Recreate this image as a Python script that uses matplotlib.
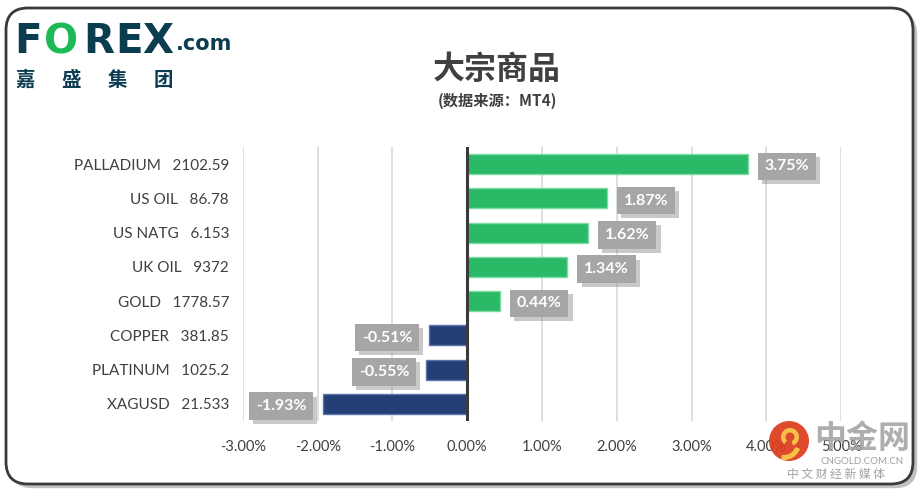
import matplotlib.pyplot as plt
import matplotlib.patheffects as pe
from matplotlib.patches import FancyBboxPatch, Circle, Wedge

names = ["PALLADIUM", "US OIL", "US NATG", "UK OIL", "GOLD", "COPPER", "PLATINUM", "XAGUSD"]
prices = ["2102.59", "86.78", "6.153", "9372", "1778.57", "381.85", "1025.2", "21.533"]
changes = [3.75, 1.87, 1.62, 1.34, 0.44, -0.51, -0.55, -1.93]
xticks = [-3, -2, -1, 0, 1, 2, 3, 4, 5]

GREEN = "#2aba67"
NAVY = "#243f76"
TEAL = "#0b3c50"
TXT = "#404040"

plt.rcParams["font.family"] = ["Lato", "Noto Sans CJK SC", "DejaVu Sans"]

W, H = 920, 492
fig = plt.figure(figsize=(W / 100, H / 100), dpi=100)


def fx(px):
    return px / W


def fy(py):
    return 1 - py / H


# outer rounded frame with shadow
frame = FancyBboxPatch((0.06, 0.08), 9.07, 4.76, boxstyle="round,pad=0,rounding_size=0.22",
                       transform=fig.dpi_scale_trans, facecolor="white", edgecolor="#3a3a3a",
                       linewidth=2, zorder=-5,
                       path_effects=[pe.SimplePatchShadow(offset=(3, -3), shadow_rgbFace="#999999", alpha=0.6),
                                     pe.Normal()])
fig.patches.append(frame)

# logo
for letter, px, col in [("F", 14, TEAL), ("O", 44, "#1db954"), ("R", 83, TEAL), ("E", 115, TEAL), ("X", 142, TEAL)]:
    fig.text(fx(px), fy(42), letter, fontsize=29, fontweight="black", color=col, va="center", family="DejaVu Sans")
fig.text(fx(176), fy(44), ".com", fontsize=15, fontweight="bold", color=TEAL, va="center", family="DejaVu Sans")
for ch, px in zip("嘉盛集团", [15, 61, 108, 154]):
    fig.text(fx(px), fy(80), ch, fontsize=14, fontweight="bold", color=TEAL, va="center",
             family=["Noto Sans CJK SC"])

# titles
fig.text(fx(497), fy(70), "大宗商品", fontsize=23, fontweight="bold", color=TXT, ha="center", va="center",
         family=["Noto Sans CJK SC"])
fig.text(fx(497), fy(101), "(数据来源：MT4)", fontsize=11, fontweight="bold", color=TXT, ha="center", va="center",
         family=["Noto Sans CJK SC"])

ax = fig.add_axes([fx(243), fy(421), fx(841) - fx(243), (421 - 147) / H])
ax.set_facecolor("none")

ypos = list(range(len(names)))
colors = [GREEN if c >= 0 else NAVY for c in changes]
edges = ["#7ddca4" if c >= 0 else "#5a76a8" for c in changes]
ax.barh(ypos, changes, height=0.58, color=colors, edgecolor=edges, linewidth=1, zorder=3)

ax.set_xlim(-3, 5)
ax.set_ylim(len(names) - 0.5, -0.5)
ax.set_xticks(xticks)
ax.set_xticklabels([f"{t:.2f}%" for t in xticks], fontsize=10.5, color=TXT)
ax.set_yticks(ypos)
ax.set_yticklabels([f"{n}   {p}" for n, p in zip(names, prices)], fontsize=11, color=TXT)
ax.tick_params(axis="both", length=0)
ax.tick_params(axis="x", pad=14)
ax.tick_params(axis="y", pad=10)
for s in ax.spines.values():
    s.set_visible(False)
ax.grid(axis="x", color="#d9d9d9", linewidth=1.2, zorder=0)
ax.axvline(0, color="#3a3a3a", linewidth=2.2, zorder=4)

for y, c in zip(ypos, changes):
    off = 12 if c >= 0 else -12
    t = ax.annotate(f"{c:.2f}%", (c, y), xytext=(off, -0.5), textcoords="offset points",
                    ha="left" if c >= 0 else "right", va="center_baseline", fontsize=11.5, fontweight="bold",
                    color="white", zorder=6,
                    bbox=dict(boxstyle="square,pad=0.42", facecolor="#a6a6a6", edgecolor="none"))
    t.get_bbox_patch().set_path_effects([pe.SimplePatchShadow(offset=(3, -3), shadow_rgbFace="#888888", alpha=0.45),
                                         pe.Normal()])

# watermark (drawn on top, like the reference)
fig.patches.append(Circle((7.89, 4.92 - 4.41), 0.2, transform=fig.dpi_scale_trans, facecolor="#dc3c1a",
                          edgecolor="none", alpha=0.92, zorder=5))
fig.patches.append(Wedge((7.90, 4.92 - 4.37), 0.09, -70, 230, width=0.045, transform=fig.dpi_scale_trans,
                         facecolor="#f7c24b", edgecolor="none", zorder=6))
fig.patches.append(Wedge((7.84, 4.92 - 4.43), 0.17, -100, -20, width=0.05, transform=fig.dpi_scale_trans,
                         facecolor="#f7c24b", edgecolor="none", zorder=6))
fig.text(fx(862), fy(439), "中金网", fontsize=23, fontweight="bold", color="#a0a0a0", ha="center", va="center",
         family=["Noto Sans CJK SC"], alpha=0.85, zorder=6)
fig.text(fx(862), fy(461), "CNGOLD.COM.CN", fontsize=7, color="#a0a0a0", ha="center", va="center", zorder=6)
fig.text(fx(836), fy(474), "中 文 财 经 新 媒 体", fontsize=8.5, color="#a0a0a0", ha="center", va="center",
         family=["Noto Sans CJK SC"], zorder=6)

fig.savefig("out.png", dpi=100)
